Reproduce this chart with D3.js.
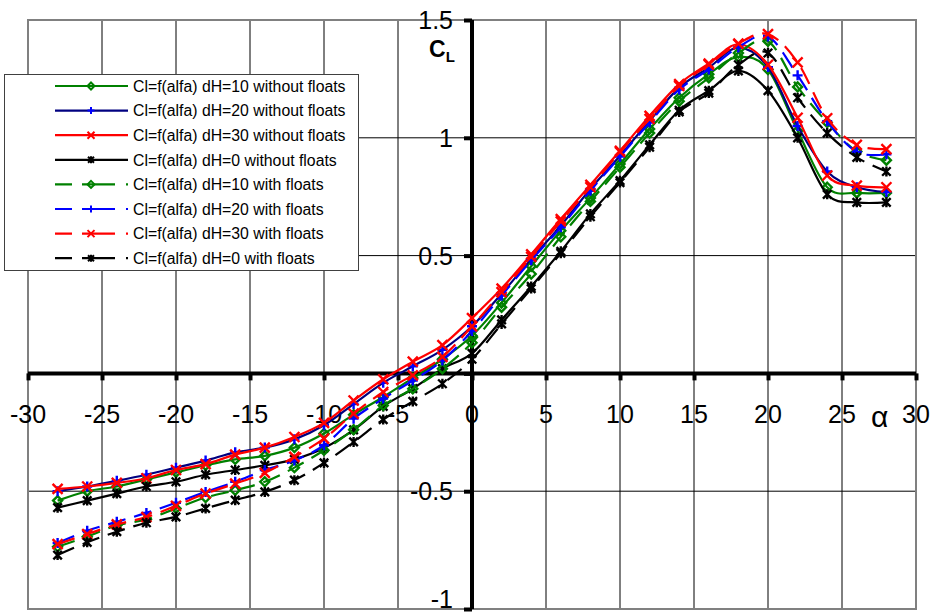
<!DOCTYPE html>
<html>
<head>
<meta charset="utf-8">
<script src="https://cdn.jsdelivr.net/npm/d3@7"></script>
<style>
  body { margin: 0; background: #fff; }
  svg { display: block; font-family: Arial, "Liberation Sans", sans-serif; }
</style>
</head>
<body>
<div id="chart"></div>
<script>
// angle of attack (deg)
var alpha = [-28,-26,-24,-22,-20,-18,-16,-14,-12,-10,-8,-6,-4,-2,0,2,4,6,8,10,12,14,16,18,20,22,24,26,28];

// Cl without floats
var cl10 = [-0.54,-0.50,-0.48,-0.45,-0.42,-0.39,-0.365,-0.35,-0.315,-0.255,-0.175,-0.10,-0.02,0.06,
            0.16,0.30,0.455,0.606,0.744,0.889,1.037,1.17,1.27,1.343,1.29,1.03,0.79,0.766,0.766];
var cl20 = [-0.50,-0.48,-0.456,-0.43,-0.40,-0.37,-0.335,-0.315,-0.28,-0.22,-0.13,-0.04,0.03,0.10,
            0.20,0.338,0.486,0.627,0.783,0.924,1.072,1.213,1.298,1.383,1.30,1.05,0.857,0.79,0.77];
var cl30 = [-0.49,-0.48,-0.465,-0.445,-0.41,-0.385,-0.345,-0.315,-0.27,-0.21,-0.115,-0.025,0.05,0.12,
            0.235,0.36,0.505,0.655,0.80,0.945,1.093,1.228,1.315,1.397,1.31,1.085,0.84,0.797,0.79];
var cl0  = [-0.57,-0.54,-0.51,-0.48,-0.46,-0.43,-0.41,-0.39,-0.365,-0.317,-0.24,-0.14,-0.065,0.02,
            0.085,0.227,0.369,0.518,0.677,0.818,0.97,1.117,1.20,1.284,1.20,1.0,0.76,0.726,0.726];

// Cl with floats
var cl10f = [-0.736,-0.693,-0.645,-0.62,-0.573,-0.527,-0.496,-0.46,-0.40,-0.326,-0.239,-0.136,-0.065,0.02,
             0.13,0.281,0.422,0.58,0.73,0.875,1.02,1.155,1.255,1.36,1.41,1.216,1.065,0.942,0.905];
var cl20f = [-0.72,-0.668,-0.63,-0.592,-0.549,-0.503,-0.46,-0.41,-0.37,-0.305,-0.192,-0.107,-0.03,0.055,
             0.18,0.33,0.48,0.62,0.775,0.92,1.065,1.205,1.29,1.385,1.43,1.265,1.07,0.94,0.93];
var cl30f = [-0.725,-0.682,-0.641,-0.61,-0.562,-0.51,-0.468,-0.422,-0.354,-0.277,-0.171,-0.079,-0.008,0.07,
             0.2,0.345,0.495,0.645,0.79,0.94,1.08,1.22,1.31,1.40,1.44,1.32,1.083,0.97,0.952];
var cl0f  = [-0.771,-0.717,-0.672,-0.634,-0.609,-0.573,-0.538,-0.503,-0.453,-0.38,-0.291,-0.196,-0.119,-0.044,
             0.06,0.21,0.36,0.51,0.665,0.81,0.96,1.11,1.19,1.31,1.36,1.17,1.02,0.917,0.857];

var names = [
  "Cl=f(alfa) dH=10 without floats",
  "Cl=f(alfa) dH=20 without floats",
  "Cl=f(alfa) dH=30 without floats",
  "Cl=f(alfa) dH=0 without floats",
  "Cl=f(alfa) dH=10 with floats",
  "Cl=f(alfa) dH=20 with floats",
  "Cl=f(alfa) dH=30 with floats",
  "Cl=f(alfa) dH=0 with floats"
];
var xTicks = [-30,-25,-20,-15,-10,-5,0,5,10,15,20,25,30];
var yTicks = [-1,-0.5,0.5,1,1.5];

var width = 938, height = 616;

var series = [
  {name: names[0], values: cl10,  line: "#008000", mark: "#008000", shape: "diamond",  dash: null},
  {name: names[1], values: cl20,  line: "#000080", mark: "#0000ff", shape: "plus",     dash: null},
  {name: names[2], values: cl30,  line: "#ff0000", mark: "#ff0000", shape: "cross",    dash: null},
  {name: names[3], values: cl0,   line: "#000000", mark: "#000000", shape: "asterisk", dash: null},
  {name: names[4], values: cl10f, line: "#008000", mark: "#008000", shape: "diamond",  dash: "18,9"},
  {name: names[5], values: cl20f, line: "#0000ff", mark: "#0000ff", shape: "plus",     dash: "18,9"},
  {name: names[6], values: cl30f, line: "#ff0000", mark: "#ff0000", shape: "cross",    dash: "18,9"},
  {name: names[7], values: cl0f,  line: "#000000", mark: "#000000", shape: "asterisk", dash: "18,9"}
];

var svg = d3.select("#chart").append("svg")
  .attr("width", width)
  .attr("height", height);

var x = d3.scaleLinear().domain([-30, 30]).range([28, 916]);
var y = d3.scaleLinear().domain([-1, 1.5]).range([609, 20]);

// grid
svg.append("g").selectAll("line.v")
  .data(xTicks.filter(function (d) { return d !== -30 && d !== 30 && d !== 0; }))
  .enter().append("line")
  .attr("x1", function (d) { return x(d); })
  .attr("x2", function (d) { return x(d); })
  .attr("y1", y(1.5)).attr("y2", y(-1))
  .attr("stroke", "#000").attr("stroke-width", 1);

svg.append("g").selectAll("line.h")
  .data(yTicks.filter(function (d) { return d !== -1 && d !== 1.5; }))
  .enter().append("line")
  .attr("x1", x(-30)).attr("x2", x(30))
  .attr("y1", function (d) { return y(d); })
  .attr("y2", function (d) { return y(d); })
  .attr("stroke", "#000").attr("stroke-width", 1);

// plot border
svg.append("rect")
  .attr("x", x(-30)).attr("y", y(1.5))
  .attr("width", x(30) - x(-30)).attr("height", y(-1) - y(1.5))
  .attr("fill", "none").attr("stroke", "#808080").attr("stroke-width", 2);

// axes through the origin
var xAxis = svg.append("g").attr("transform", "translate(0," + y(0) + ")")
  .call(d3.axisBottom(x).tickValues(xTicks).tickSize(7).tickFormat(""));
xAxis.select(".domain").attr("stroke", "#000").attr("stroke-width", 4).attr("d", "M" + x(-30) + ",0H" + x(30));
xAxis.selectAll(".tick line").attr("stroke", "#000").attr("stroke-width", 4);

var yAxis = svg.append("g").attr("transform", "translate(" + x(0) + ",0)")
  .call(d3.axisLeft(y).tickValues([-1, -0.5, 0, 0.5, 1, 1.5]).tickSize(8).tickFormat(""));
yAxis.select(".domain").attr("stroke", "#000").attr("stroke-width", 4).attr("d", "M0," + y(1.5) + "V" + y(-1));
yAxis.selectAll(".tick line").attr("stroke", "#000").attr("stroke-width", 4);

// tick labels
svg.append("g").selectAll("text")
  .data(xTicks).enter().append("text")
  .attr("x", function (d) { return x(d); })
  .attr("y", 423)
  .attr("text-anchor", "middle")
  .attr("font-size", 25)
  .text(function (d) { return d; });

svg.append("g").selectAll("text")
  .data(yTicks).enter().append("text")
  .attr("x", 453)
  .attr("y", function (d) { return d === -1 ? y(d) - 10 : y(d); })
  .attr("dy", "0.36em")
  .attr("text-anchor", "end")
  .attr("font-size", 25)
  .text(function (d) { return d; });

// axis titles
var cl = svg.append("text").attr("x", 429).attr("y", 57)
  .attr("font-size", 23).attr("font-weight", "bold");
cl.append("tspan").text("C");
cl.append("tspan").attr("font-size", 15).attr("dy", 5).text("L");

svg.append("text").attr("x", 871).attr("y", 427)
  .attr("font-size", 30).text("α");

// marker shapes
function markerPath(shape, s) {
  if (shape === "diamond") return "M0," + (-s) + "L" + s + ",0L0," + s + "L" + (-s) + ",0Z";
  if (shape === "plus") return "M" + (-s) + ",0H" + s + "M0," + (-s) + "V" + s;
  if (shape === "cross") return "M" + (-s) + "," + (-s) + "L" + s + "," + s + "M" + (-s) + "," + s + "L" + s + "," + (-s);
  var d = s * 0.85;
  return "M" + (-d) + "," + (-d) + "L" + d + "," + d + "M" + (-d) + "," + d + "L" + d + "," + (-d) + "M0," + (-s) + "V" + s;
}

var line = d3.line()
  .curve(d3.curveCardinal.tension(0))
  .x(function (d) { return x(d[0]); })
  .y(function (d) { return y(d[1]); });

series.forEach(function (s) {
  var pts = alpha.map(function (a, i) { return [a, s.values[i]]; });
  var g = svg.append("g");
  g.append("path")
    .datum(pts)
    .attr("fill", "none")
    .attr("stroke", s.line)
    .attr("stroke-width", 2.2)
    .attr("stroke-dasharray", s.dash)
    .attr("d", line);
  g.selectAll("path.m")
    .data(pts).enter().append("path")
    .attr("class", "m")
    .attr("transform", function (d) { return "translate(" + x(d[0]) + "," + y(d[1]) + ")"; })
    .attr("d", markerPath(s.shape, s.shape === "diamond" ? 4.5 : 5))
    .attr("fill", "none")
    .attr("stroke", s.mark)
    .attr("stroke-width", 2.4);
});

// legend
var legend = svg.append("g");
legend.append("rect")
  .attr("x", 4.5).attr("y", 74.5).attr("width", 354).attr("height", 196)
  .attr("fill", "#fff").attr("stroke", "#404040").attr("stroke-width", 1);

var item = legend.selectAll("g.item")
  .data(series).enter().append("g")
  .attr("class", "item")
  .attr("transform", function (d, i) { return "translate(0," + (86 + i * 24.6) + ")"; });

item.append("line")
  .attr("x1", 55).attr("x2", 128)
  .attr("stroke", function (d) { return d.line; })
  .attr("stroke-width", 2.2)
  .attr("stroke-dasharray", function (d) { return d.dash ? "17,10,33,11,2" : null; });

item.append("path")
  .attr("transform", "translate(91,0)")
  .attr("d", function (d) { return markerPath(d.shape, 3.5); })
  .attr("fill", "none")
  .attr("stroke", function (d) { return d.mark; })
  .attr("stroke-width", 2);

item.append("text")
  .attr("x", 133).attr("dy", "0.36em")
  .attr("font-size", 15.8)
  .text(function (d) { return d.name; });
</script>
</body>
</html>
